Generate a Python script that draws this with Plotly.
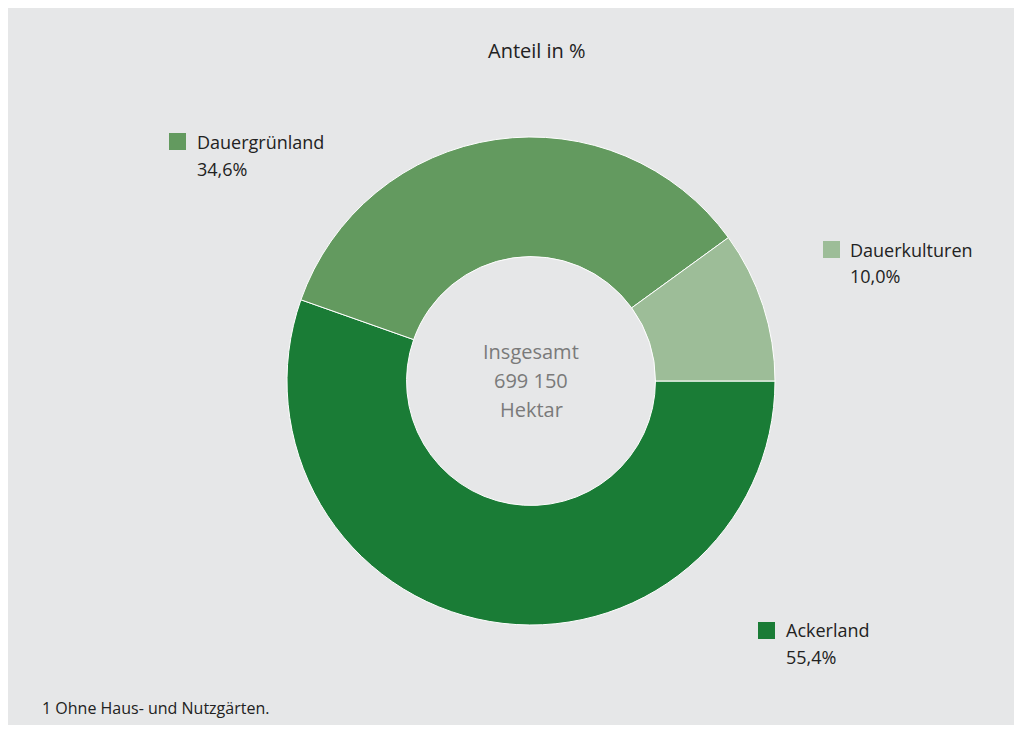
import plotly.graph_objects as go

categories = ["Ackerland", "Dauergrünland", "Dauerkulturen"]
values = [55.4, 34.6, 10.0]
value_labels = ["55,4%", "34,6%", "10,0%"]
colors = ["#1a7c36", "#639a5f", "#9dbd98"]
center_lines = ["Insgesamt", "699 150", "Hektar"]

W, H = 1007, 717
OX, OY = 7, 8
def px(x):
    return (x - OX) / W
def py(y):
    return 1 - (y - OY) / H

cx, cy, r = 530, 381, 244

fig = go.Figure()
fig.add_trace(go.Pie(
    labels=categories, values=values, hole=0.51, sort=False,
    direction="clockwise", rotation=90,
    marker=dict(colors=colors, line=dict(color="white", width=1)),
    textinfo="none", hoverinfo="label+percent", showlegend=False,
    domain=dict(x=[px(cx - r), px(cx + r)], y=[py(cy + r), py(cy - r)]),
))

shapes = []
label_pos = {
    "Dauergrünland": (168, 133, 194, 142, 169),
    "Dauerkulturen": (822, 241, 847, 250, 276),
    "Ackerland": (757, 622, 783, 630, 657),
}
annotations = []
font = "Open Sans, Noto Sans, sans-serif"
for cat, col, lab in zip(categories, colors, value_labels):
    sx, sy, tx, ny, vy = label_pos[cat]
    shapes.append(dict(type="rect", xref="paper", yref="paper",
                       x0=px(sx), x1=px(sx + 17), y0=py(sy + 17), y1=py(sy),
                       fillcolor=col, line=dict(width=0)))
    annotations.append(dict(x=px(tx), y=py(ny), xref="paper", yref="paper",
                            text=cat, showarrow=False, xanchor="left", yanchor="middle",
                            font=dict(size=18, color="#222222", family=font)))
    annotations.append(dict(x=px(tx), y=py(vy), xref="paper", yref="paper",
                            text=lab, showarrow=False, xanchor="left", yanchor="middle",
                            font=dict(size=18, color="#222222", family=font)))

annotations.append(dict(x=px(536), y=py(50), xref="paper", yref="paper",
                        text="Anteil in %", showarrow=False, xanchor="center", yanchor="middle",
                        font=dict(size=20, color="#222222", family=font)))
for i, line in enumerate(center_lines):
    annotations.append(dict(x=px(cx), y=py(352 + 28.5 * i), xref="paper", yref="paper",
                            text=line, showarrow=False,
                            xanchor="center", yanchor="middle",
                            font=dict(size=20, color="#7a7a7a", family=font)))
annotations.append(dict(x=px(39), y=py(708), xref="paper", yref="paper",
                        text="1 Ohne Haus- und Nutzgärten.", showarrow=False,
                        xanchor="left", yanchor="middle",
                        font=dict(size=16, color="#222222", family=font)))

fig.update_layout(width=W, height=H, margin=dict(l=0, r=0, t=0, b=0),
                  paper_bgcolor="#e6e7e8", plot_bgcolor="#e6e7e8",
                  shapes=shapes, annotations=annotations)

fig.write_html("out.html")
